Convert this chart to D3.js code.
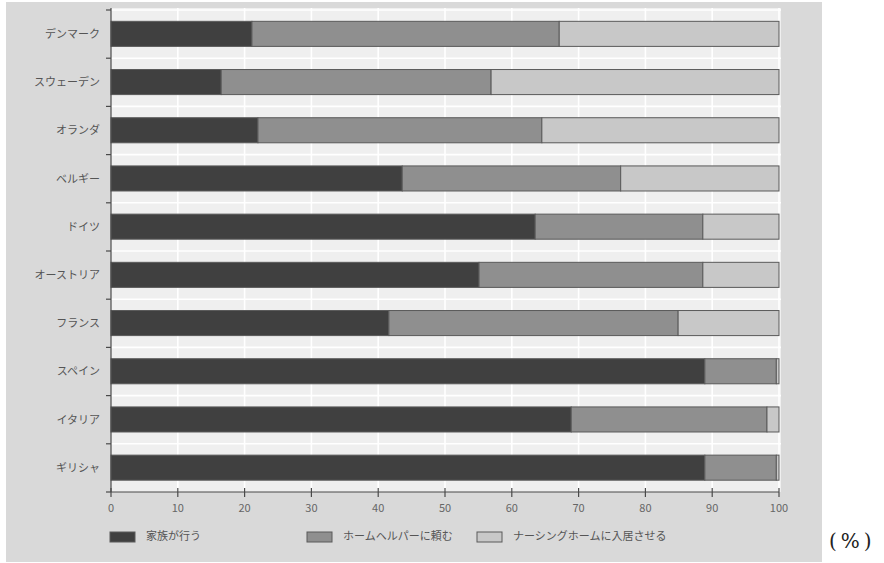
<!DOCTYPE html>
<html>
<head>
<meta charset="utf-8">
<script src="https://cdn.jsdelivr.net/npm/d3@7"></script>
<style>
  body { margin: 0; background: #fff; }
  svg { display: block; }
  text { font-family: "Noto Sans CJK JP", "Noto Sans", sans-serif; }
</style>
</head>
<body>
<svg id="chart" width="884" height="563"></svg>
<script>
// countries, top to bottom
const countries = ["デンマーク", "スウェーデン", "オランダ", "ベルギー", "ドイツ",
  "オーストリア", "フランス", "スペイン", "イタリア", "ギリシャ"];

// shares in %
const family  = [21.1, 16.5, 22.0, 43.6, 63.5, 55.1, 41.6, 88.9, 68.9, 88.9];
const helper  = [46.0, 40.4, 42.5, 32.7, 25.1, 33.5, 43.3, 10.7, 29.3, 10.7];
const nursing = [32.9, 43.1, 35.5, 23.7, 11.4, 11.4, 15.1,  0.4,  1.8,  0.4];

const seriesKeys = ["家族が行う", "ホームヘルパーに頼む", "ナーシングホームに入居させる"];
const seriesColors = ["#404040", "#8f8f8f", "#c8c8c8"];
const xTicks = [0, 10, 20, 30, 40, 50, 60, 70, 80, 90, 100];

const rows = countries.map((c, i) => ({
  country: c,
  [seriesKeys[0]]: family[i],
  [seriesKeys[1]]: helper[i],
  [seriesKeys[2]]: nursing[i]
}));

const svg = d3.select("#chart");

// outer grey panel
svg.append("rect")
  .attr("x", 6).attr("y", 2)
  .attr("width", 816).attr("height", 560)
  .attr("fill", "#d9d9d9");

const x = d3.scaleLinear().domain([0, 100]).range([111, 779]);
const y = d3.scaleBand().domain(countries).range([10, 492]).padding(0);

// plot background
svg.append("rect")
  .attr("x", x(0)).attr("y", 8)
  .attr("width", x(100) - x(0) + 2).attr("height", 492 - 8)
  .attr("fill", "#efefef");

// white grid lines
svg.append("g")
  .selectAll("line")
  .data(xTicks.slice(1))
  .join("line")
  .attr("x1", d => x(d)).attr("x2", d => x(d))
  .attr("y1", 8).attr("y2", 492)
  .attr("stroke", "#fff").attr("stroke-width", 1.6);

svg.append("g")
  .selectAll("line")
  .data(countries)
  .join("line")
  .attr("x1", x(0)).attr("x2", x(100) + 2)
  .attr("y1", d => y(d)).attr("y2", d => y(d))
  .attr("stroke", "#fff").attr("stroke-width", 1.6);

// stacked bars
const stack = d3.stack().keys(seriesKeys);
const stacked = stack(rows);
const barH = y.bandwidth() * 0.52;
const barOff = y.bandwidth() * 0.235;

svg.append("g")
  .selectAll("g")
  .data(stacked)
  .join("g")
  .attr("fill", (d, i) => seriesColors[i])
  .selectAll("rect")
  .data(d => d)
  .join("rect")
  .attr("x", d => x(d[0]))
  .attr("y", d => y(d.data.country) + barOff)
  .attr("width", d => x(d[1]) - x(d[0]))
  .attr("height", barH)
  .attr("stroke", "#5a5a5a")
  .attr("stroke-width", 1);

// y axis
const yAxis = svg.append("g");
yAxis.append("line")
  .attr("x1", x(0)).attr("x2", x(0))
  .attr("y1", 8).attr("y2", 492)
  .attr("stroke", "#4a4a4a").attr("stroke-width", 1.2);
yAxis.selectAll(".ytick")
  .data(countries.concat(["end"]))
  .join("line")
  .attr("class", "ytick")
  .attr("x1", x(0) - 5).attr("x2", x(0))
  .attr("y1", (d, i) => i < countries.length ? y(d) : y.range()[1])
  .attr("y2", (d, i) => i < countries.length ? y(d) : y.range()[1])
  .attr("stroke", "#4a4a4a").attr("stroke-width", 1.2);
yAxis.selectAll("text")
  .data(countries)
  .join("text")
  .attr("x", 100)
  .attr("y", d => y(d) + y.bandwidth() / 2 + 1)
  .attr("text-anchor", "end")
  .attr("dominant-baseline", "middle")
  .attr("font-size", 11)
  .attr("fill", "#555")
  .text(d => d);

// x axis
const xAxis = svg.append("g");
xAxis.append("line")
  .attr("x1", x(0)).attr("x2", x(100))
  .attr("y1", 492).attr("y2", 492)
  .attr("stroke", "#4a4a4a").attr("stroke-width", 1.2);
xAxis.selectAll(".xtick")
  .data(xTicks)
  .join("line")
  .attr("class", "xtick")
  .attr("x1", d => x(d)).attr("x2", d => x(d))
  .attr("y1", 488).attr("y2", 497)
  .attr("stroke", "#4a4a4a").attr("stroke-width", 1.2);
xAxis.selectAll("text")
  .data(xTicks)
  .join("text")
  .attr("x", d => x(d))
  .attr("y", 512)
  .attr("text-anchor", "middle")
  .attr("font-size", 11)
  .attr("fill", "#666")
  .text(d => d);

// legend
const legendX = [110, 307, 477];
const legend = svg.append("g")
  .selectAll("g")
  .data(seriesKeys)
  .join("g")
  .attr("transform", (d, i) => `translate(${legendX[i]},532)`);
legend.append("rect")
  .attr("width", 25).attr("height", 10)
  .attr("fill", (d, i) => seriesColors[i])
  .attr("stroke", "#5a5a5a").attr("stroke-width", 1);
legend.append("text")
  .attr("x", 36).attr("y", 5)
  .attr("dominant-baseline", "middle")
  .attr("font-size", 11)
  .attr("fill", "#555")
  .text(d => d);

// unit
svg.append("text")
  .attr("x", 829).attr("y", 548)
  .style("font-family", "'DejaVu Serif', 'Liberation Serif', serif")
  .attr("font-size", 20)
  .attr("letter-spacing", 4)
  .attr("fill", "#222")
  .text("(%)");
</script>
</body>
</html>
